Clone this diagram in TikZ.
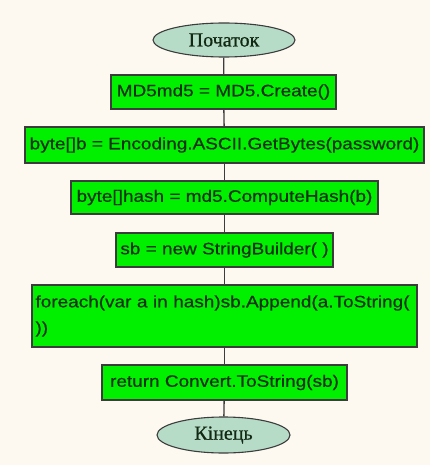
\documentclass[tikz,border=0pt]{standalone}
\usepackage{fontspec}
\setmainfont{Liberation Serif}
\newfontfamily\codefont[FakeStretch=1.15,FakeBold=0.6]{Liberation Sans}
\newfontfamily\termfont[FakeBold=0.8]{Liberation Serif}
\usetikzlibrary{shapes.geometric}
\definecolor{paper}{HTML}{FDF9F0}
\definecolor{stepgreen}{HTML}{00F000}
\definecolor{termfill}{HTML}{B6DCC8}
\definecolor{edgegray}{HTML}{3C3C3C}
\definecolor{codetext}{HTML}{163216}
\tikzset{
  stepbox/.style={draw=edgegray, line width=1.4pt, fill=stepgreen, rectangle,
    inner sep=0pt, text=codetext, font=\codefont\fontsize{16.5}{19}\selectfont},
  terminal/.style={draw=edgegray, line width=1.1pt, fill=termfill, ellipse,
    inner sep=0pt, text=codetext!80!black, font=\termfont\fontsize{20}{22}\selectfont},
  link/.style={draw=edgegray, line width=1.3pt}
}
\begin{document}
\begin{tikzpicture}[x=1pt, y=-1pt]
  \fill[paper] (0,0) rectangle (430,465);
  \useasboundingbox (0,0) rectangle (430,465);

  \node[terminal, minimum width=142pt, minimum height=34pt] (start) at (224,40) {Початок};
  \node[stepbox, minimum width=225pt, minimum height=34pt] (s1) at (223.5,92) {MD5md5 = MD5.Create()};
  \node[stepbox, minimum width=399pt, minimum height=36pt] (s2) at (224.5,145) {byte[]b = Encoding.ASCII.GetBytes(password)};
  \node[stepbox, minimum width=307pt, minimum height=33pt] (s3) at (224.5,197.5) {byte[]hash = md5.ComputeHash(b)};
  \node[stepbox, minimum width=217pt, minimum height=34pt] (s4) at (224.5,250) {sb = new StringBuilder( )};
  \node[stepbox, minimum width=385pt, minimum height=62pt, text width=378pt, align=left,
        font=\codefont\fontsize{16.5}{26}\selectfont] (s5) at (224.5,316)
        {foreach(var a in hash)sb.Append(a.ToString(\\))};
  \node[stepbox, minimum width=245pt, minimum height=35pt] (s6) at (224.5,382.5) {return Convert.ToString(sb)};
  \node[terminal, minimum width=133pt, minimum height=36pt] (stop) at (223.5,435) {Кінець};

  \foreach \a/\b in {start/s1, s1/s2, s2/s3, s3/s4, s4/s5, s5/s6, s6/stop}
    \draw[link] (\a) -- (\b);
\end{tikzpicture}
\end{document}
